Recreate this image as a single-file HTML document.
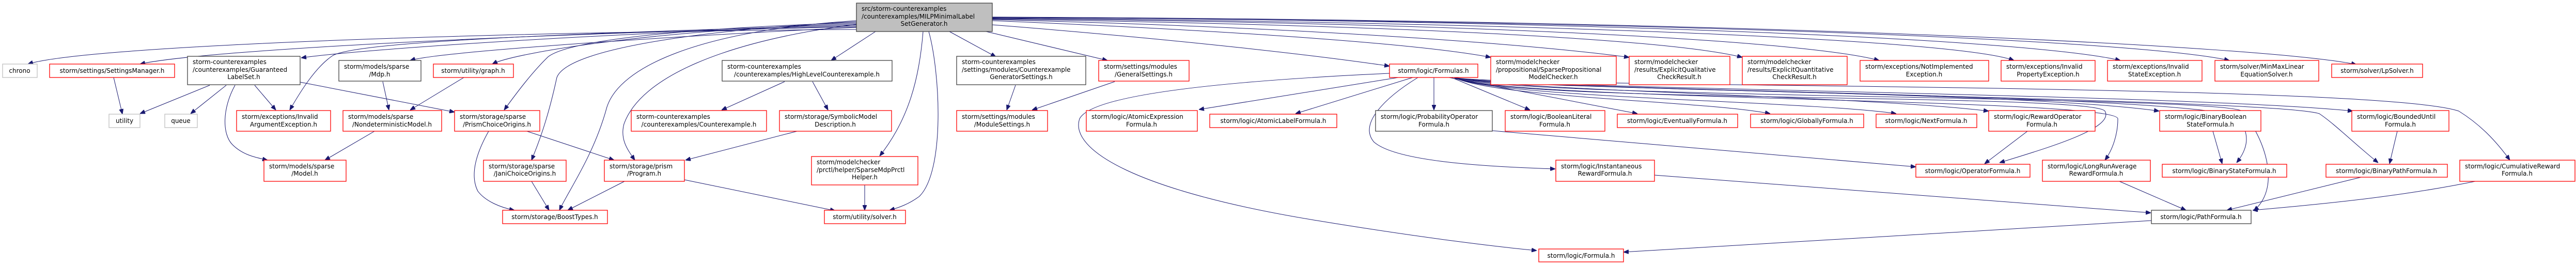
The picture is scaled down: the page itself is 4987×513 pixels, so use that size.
<!DOCTYPE html>
<html><head><meta charset="utf-8"><style>
html,body{margin:0;padding:0;background:#fff;}
svg{display:block;}
text{font-family:"DejaVu Sans","Liberation Sans",sans-serif;font-size:12px;fill:#000;}
.r{fill:#fff;stroke:#ff0000;stroke-width:1.3}
.k{fill:#fff;stroke:#404040;stroke-width:1.3}
.g{fill:#fff;stroke:#bfbfbf;stroke-width:1.3}
.e{fill:none;stroke:#191970;stroke-width:1}
</style></head><body>
<svg width="4987" height="513" viewBox="0 0 4987 513" xmlns="http://www.w3.org/2000/svg">
<defs><marker id="a" markerWidth="10" markerHeight="8" refX="10" refY="4" orient="auto" markerUnits="userSpaceOnUse"><path d="M0,0 L10,4 L0,8 z" fill="#191970" stroke="#191970"/></marker></defs>
<g class="e" marker-end="url(#a)">
<!-- from main -->
<path d="M1658,57 C900,62 160,90 54,124"/>
<path d="M1658,52 C1100,62 400,95 271,124"/>
<path d="M1658,50 C1200,62 700,95 583,112"/>
<path d="M1658,48 C1100,65 700,80 645,107 C610,130 580,180 561,213"/>
<path d="M1658,53 C1300,70 850,100 794,117"/>
<path d="M1658,46 C1300,55 1000,100 953,124"/>
<path d="M1658,44 C1300,55 1100,80 1061,110 C1030,140 1000,180 976,213"/>
<path d="M1658,42 C1400,55 1100,90 1078,150 C1065,210 1050,260 1029,310"/>
<path d="M1658,40 C1350,60 1200,130 1175,207 C1150,300 1100,370 1083,407"/>
<path d="M1658,47 C1400,80 1240,150 1208,240 C1200,270 1215,290 1229,310"/>
<path d="M1695,61 L1609,117"/>
<path d="M1787,61 C1780,150 1760,230 1703,302"/>
<path d="M1798,61 C1820,140 1830,330 1780,380 C1760,395 1740,402 1722,407"/>
<path d="M1838,61 L1928,110"/>
<path d="M1909,61 L2144,117"/>
<path d="M1921,48 C2200,70 2500,100 2690,128"/>
<path d="M1921,40 C2400,60 2750,85 2886,111"/>
<path d="M1921,38 C2600,55 3000,90 3154,111"/>
<path d="M1921,37 C2800,50 3250,80 3373,111"/>
<path d="M1921,36 C2900,45 3500,80 3638,117"/>
<path d="M1921,35 C3100,45 3800,80 3899,117"/>
<path d="M1921,34 C3200,40 3950,80 4105,117"/>
<path d="M1921,34 C3300,40 4150,80 4316,117"/>
<path d="M1921,33 C3400,38 4400,90 4562,125"/>
<!-- others -->
<path d="M406,165 L271,220"/>
<path d="M438,165 L369,220"/>
<path d="M493,165 L534,213"/>
<path d="M455,165 C430,210 430,260 450,280 C470,300 495,305 518,310"/>
<path d="M581,159 L880,217"/>
<path d="M220,150 L237,221"/>
<path d="M741,158 L753,213"/>
<path d="M898,150 L794,213"/>
<path d="M725,254 L629,310"/>
<path d="M946,254 C920,300 910,340 925,370 C940,390 970,402 996,407"/>
<path d="M1020,254 L1189,310"/>
<path d="M1029,351 L1063,407"/>
<path d="M1209,351 L1099,407"/>
<path d="M1325,348 L1617,408"/>
<path d="M1543,254 L1327,310"/>
<path d="M1519,158 L1397,213"/>
<path d="M1573,158 L1603,213"/>
<path d="M1674,358 L1674,407"/>
<path d="M1966,165 L1949,213"/>
<path d="M2158,158 L1998,213"/>
<!-- Formulas -->
<path d="M2690,142 C2300,160 2110,190 2090,230 C2070,290 2200,370 2550,427 C2750,460 2900,478 2975,485"/>
<path d="M2707,150 L2321,212"/>
<path d="M2735,150 L2508,220"/>
<path d="M2776,150 L2776,213"/>
<path d="M2810,150 L2962,213"/>
<path d="M2745,150 C2680,190 2630,240 2660,275 C2700,310 2850,322 3011,327"/>
<path d="M2805,150 L3170,220"/>
<path d="M2815,150 C2900,190 3300,195 3427,220"/>
<path d="M2815,150 C2900,190 3500,195 3671,220"/>
<path d="M2815,150 C2900,175 3600,185 3850,215"/>
<path d="M2815,150 C2900,175 3900,175 4180,215"/>
<path d="M2815,150 C2900,172 4200,180 4555,215"/>
<path d="M2815,150 C2900,175 4200,180 4330,225 C4360,260 4350,290 4330,315"/>
<path d="M2815,150 C2900,175 4400,190 4490,220 C4520,240 4560,280 4604,315"/>
<path d="M2815,150 C2900,170 4600,160 4760,215 C4800,240 4830,270 4859,310"/>
<path d="M2815,150 C2900,200 4050,180 4075,215 C4095,250 3950,290 3871,315"/>
<path d="M2815,150 C2900,195 4100,190 4100,230 C4100,260 4090,290 4075,310"/>
<path d="M2815,150 C2900,190 4300,185 4340,215 C4380,260 4420,360 4363,408"/>
<path d="M2889,253 L3709,323"/>
<path d="M3925,254 L3842,317"/>
<path d="M3203,339 L4164,412"/>
<path d="M4103,351 L4232,407"/>
<path d="M4284,254 L4302,317"/>
<path d="M4641,254 L4626,317"/>
<path d="M4571,343 L4311,407"/>
<path d="M4792,351 C4650,380 4500,395 4361,407"/>
<path d="M4165,427 L3143,488"/>
</g>
<!-- nodes -->
<rect x="1658" y="6" width="263" height="55" fill="#bfbfbf" stroke="#404040" stroke-width="1.3"/>
<text x="1668" y="21">src/storm-counterexamples</text><text x="1668" y="36">/counterexamples/MILPMinimalLabel</text><text x="1789" y="50" text-anchor="middle">SetGenerator.h</text>

<rect class="g" x="5" y="124" width="67" height="26"/><text x="38" y="141" text-anchor="middle">chrono</text>
<rect class="r" x="96" y="124" width="242" height="26"/><text x="217" y="141" text-anchor="middle">storm/settings/SettingsManager.h</text>
<rect class="k" x="363" y="109" width="218" height="55"/><text x="373" y="124">storm-counterexamples</text><text x="373" y="139">/counterexamples/Guaranteed</text><text x="472" y="153" text-anchor="middle">LabelSet.h</text>
<rect class="k" x="656" y="117" width="159" height="40"/><text x="666" y="133">storm/models/sparse</text><text x="735" y="148" text-anchor="middle">/Mdp.h</text>
<rect class="r" x="839" y="124" width="155" height="26"/><text x="916" y="141" text-anchor="middle">storm/utility/graph.h</text>
<rect class="g" x="211" y="221" width="60" height="26"/><text x="241" y="238" text-anchor="middle">utility</text>
<rect class="g" x="319" y="221" width="63" height="26"/><text x="350" y="238" text-anchor="middle">queue</text>
<rect class="r" x="458" y="214" width="182" height="40"/><text x="468" y="230">storm/exceptions/Invalid</text><text x="549" y="245" text-anchor="middle">ArgumentException.h</text>
<rect class="r" x="664" y="214" width="191" height="40"/><text x="674" y="230">storm/models/sparse</text><text x="759" y="245" text-anchor="middle">/NondeterministicModel.h</text>
<rect class="r" x="511" y="310" width="159" height="41"/><text x="521" y="326">storm/models/sparse</text><text x="590" y="340" text-anchor="middle">/Model.h</text>
<rect class="r" x="880" y="214" width="165" height="40"/><text x="890" y="230">storm/storage/sparse</text><text x="962" y="245" text-anchor="middle">/PrismChoiceOrigins.h</text>
<rect class="k" x="1398" y="117" width="329" height="40"/><text x="1408" y="133">storm-counterexamples</text><text x="1562" y="148" text-anchor="middle">/counterexamples/HighLevelCounterexample.h</text>
<rect class="r" x="1222" y="214" width="262" height="40"/><text x="1232" y="230">storm-counterexamples</text><text x="1353" y="245" text-anchor="middle">/counterexamples/Counterexample.h</text>
<rect class="r" x="1509" y="214" width="217" height="40"/><text x="1519" y="230">storm/storage/SymbolicModel</text><text x="1617" y="245" text-anchor="middle">Description.h</text>
<rect class="r" x="936" y="310" width="160" height="41"/><text x="946" y="326">storm/storage/sparse</text><text x="1016" y="340" text-anchor="middle">/JaniChoiceOrigins.h</text>
<rect class="r" x="1170" y="310" width="155" height="41"/><text x="1180" y="326">storm/storage/prism</text><text x="1247" y="340" text-anchor="middle">/Program.h</text>
<rect class="r" x="973" y="407" width="203" height="26"/><text x="1074" y="424" text-anchor="middle">storm/storage/BoostTypes.h</text>
<rect class="r" x="1571" y="303" width="206" height="55"/><text x="1581" y="318">storm/modelchecker</text><text x="1581" y="333">/prctl/helper/SparseMdpPrctl</text><text x="1674" y="347" text-anchor="middle">Helper.h</text>
<rect class="r" x="1596" y="407" width="157" height="26"/><text x="1674" y="424" text-anchor="middle">storm/utility/solver.h</text>
<rect class="k" x="1852" y="109" width="250" height="55"/><text x="1862" y="124">storm-counterexamples</text><text x="1862" y="139">/settings/modules/Counterexample</text><text x="1977" y="153" text-anchor="middle">GeneratorSettings.h</text>
<rect class="r" x="2127" y="117" width="175" height="40"/><text x="2137" y="133">storm/settings/modules</text><text x="2214" y="148" text-anchor="middle">/GeneralSettings.h</text>
<rect class="r" x="1852" y="214" width="176" height="40"/><text x="1862" y="230">storm/settings/modules</text><text x="1940" y="245" text-anchor="middle">/ModuleSettings.h</text>
<rect class="r" x="2103" y="214" width="215" height="40"/><text x="2113" y="230">storm/logic/AtomicExpression</text><text x="2210" y="245" text-anchor="middle">Formula.h</text>
<rect class="r" x="2342" y="221" width="246" height="26"/><text x="2465" y="238" text-anchor="middle">storm/logic/AtomicLabelFormula.h</text>
<rect class="r" x="2690" y="124" width="171" height="26"/><text x="2775" y="141" text-anchor="middle">storm/logic/Formulas.h</text>
<rect class="r" x="2886" y="109" width="243" height="55"/><text x="2896" y="124">storm/modelchecker</text><text x="2896" y="139">/propositional/SparsePropositional</text><text x="3007" y="153" text-anchor="middle">ModelChecker.h</text>
<rect class="r" x="3154" y="109" width="195" height="55"/><text x="3164" y="124">storm/modelchecker</text><text x="3164" y="139">/results/ExplicitQualitative</text><text x="3251" y="153" text-anchor="middle">CheckResult.h</text>
<rect class="r" x="3373" y="109" width="203" height="55"/><text x="3383" y="124">storm/modelchecker</text><text x="3383" y="139">/results/ExplicitQuantitative</text><text x="3474" y="153" text-anchor="middle">CheckResult.h</text>
<rect class="k" x="2663" y="214" width="226" height="40"/><text x="2673" y="230">storm/logic/ProbabilityOperator</text><text x="2776" y="245" text-anchor="middle">Formula.h</text>
<rect class="r" x="2914" y="214" width="193" height="40"/><text x="2924" y="230">storm/logic/BooleanLiteral</text><text x="3010" y="245" text-anchor="middle">Formula.h</text>
<rect class="r" x="3131" y="221" width="233" height="26"/><text x="3247" y="238" text-anchor="middle">storm/logic/EventuallyFormula.h</text>
<rect class="r" x="3389" y="221" width="219" height="26"/><text x="3498" y="238" text-anchor="middle">storm/logic/GloballyFormula.h</text>
<rect class="r" x="3012" y="310" width="191" height="41"/><text x="3022" y="326">storm/logic/Instantaneous</text><text x="3107" y="340" text-anchor="middle">RewardFormula.h</text>
<rect class="r" x="2979" y="482" width="164" height="25"/><text x="3061" y="499" text-anchor="middle">storm/logic/Formula.h</text>
<rect class="r" x="3601" y="117" width="249" height="40"/><text x="3611" y="133">storm/exceptions/NotImplemented</text><text x="3725" y="148" text-anchor="middle">Exception.h</text>
<rect class="r" x="3874" y="117" width="182" height="40"/><text x="3884" y="133">storm/exceptions/Invalid</text><text x="3965" y="148" text-anchor="middle">PropertyException.h</text>
<rect class="r" x="4080" y="117" width="183" height="40"/><text x="4090" y="133">storm/exceptions/Invalid</text><text x="4171" y="148" text-anchor="middle">StateException.h</text>
<rect class="r" x="3632" y="221" width="195" height="26"/><text x="3729" y="238" text-anchor="middle">storm/logic/NextFormula.h</text>
<rect class="r" x="3850" y="214" width="206" height="40"/><text x="3860" y="230">storm/logic/RewardOperator</text><text x="3953" y="245" text-anchor="middle">Formula.h</text>
<rect class="r" x="4181" y="214" width="196" height="40"/><text x="4191" y="230">storm/logic/BinaryBoolean</text><text x="4279" y="245" text-anchor="middle">StateFormula.h</text>
<rect class="r" x="3709" y="318" width="221" height="25"/><text x="3819" y="335" text-anchor="middle">storm/logic/OperatorFormula.h</text>
<rect class="r" x="3954" y="310" width="209" height="41"/><text x="3964" y="326">storm/logic/LongRunAverage</text><text x="4058" y="340" text-anchor="middle">RewardFormula.h</text>
<rect class="r" x="4186" y="318" width="241" height="25"/><text x="4306" y="335" text-anchor="middle">storm/logic/BinaryStateFormula.h</text>
<rect class="k" x="4165" y="407" width="193" height="26"/><text x="4261" y="424" text-anchor="middle">storm/logic/PathFormula.h</text>
<rect class="r" x="4288" y="117" width="201" height="40"/><text x="4298" y="133">storm/solver/MinMaxLinear</text><text x="4388" y="148" text-anchor="middle">EquationSolver.h</text>
<rect class="r" x="4514" y="124" width="176" height="26"/><text x="4602" y="141" text-anchor="middle">storm/solver/LpSolver.h</text>
<rect class="r" x="4553" y="214" width="188" height="40"/><text x="4563" y="230">storm/logic/BoundedUntil</text><text x="4647" y="245" text-anchor="middle">Formula.h</text>
<rect class="r" x="4503" y="318" width="235" height="25"/><text x="4620" y="335" text-anchor="middle">storm/logic/BinaryPathFormula.h</text>
<rect class="r" x="4762" y="310" width="223" height="41"/><text x="4772" y="326">storm/logic/CumulativeReward</text><text x="4873" y="340" text-anchor="middle">Formula.h</text>
</svg>
</body></html>
